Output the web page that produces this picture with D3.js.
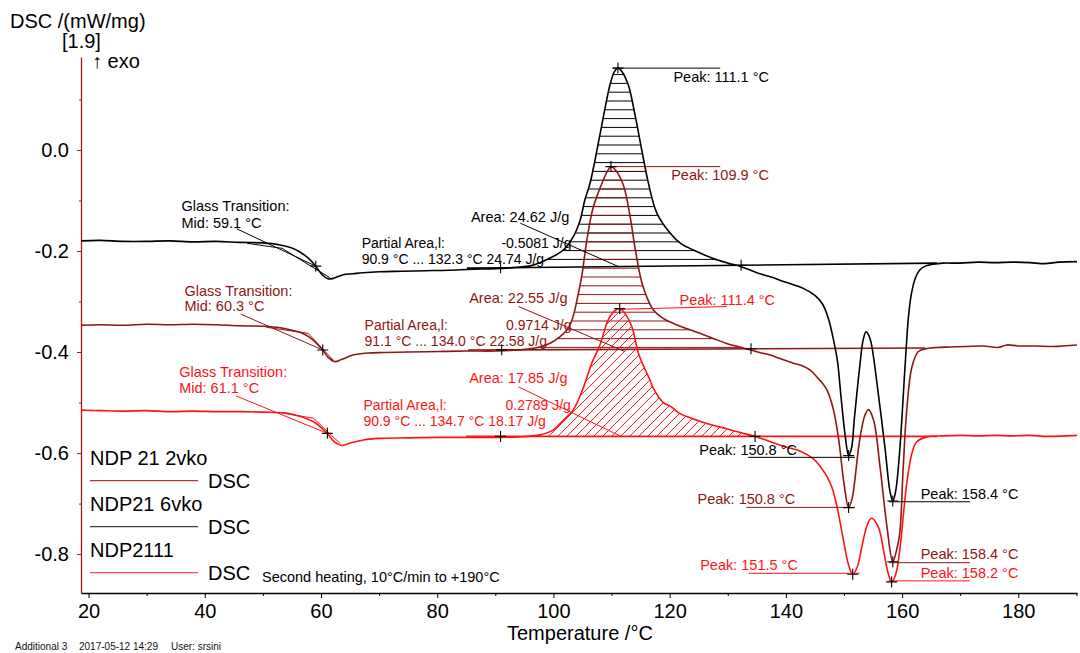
<!DOCTYPE html>
<html>
<head>
<meta charset="utf-8">
<script src="https://cdn.jsdelivr.net/npm/d3@7"></script>
<style>
  body { margin: 0; background: #fff; }
  svg { font-family: "Liberation Sans", Arial, sans-serif; }
</style>
</head>
<body>
<div id="chart"></div>
<script>
// ---- data (temperature /°C, DSC /(mW/mg)) ----
const ndp21_2vko = [
  [18.7,-0.347],[22,-0.346],[26,-0.347],[30,-0.345],[34,-0.346],[38,-0.345],[42,-0.346],[46,-0.348],[50,-0.349],
  [53,-0.352],[55,-0.357],[57,-0.364],[58.5,-0.375],[59.5,-0.386],[60.3,-0.396],[61.2,-0.410],[62.4,-0.419],
  [63.5,-0.415],[65.5,-0.406],[68,-0.402],[71,-0.401],[75,-0.400],[80,-0.399],[85,-0.398],[90,-0.398],
  [94,-0.396],[97.7,-0.390],[99.5,-0.382],[101.1,-0.370],[102.2,-0.358],[102.9,-0.345],[103.5,-0.325],
  [104.0,-0.300],[104.9,-0.248],[105.7,-0.182],[106.7,-0.120],[107.6,-0.088],[108.5,-0.062],[109.3,-0.042],
  [109.9,-0.033],[110.7,-0.040],[112.05,-0.070],[113.2,-0.132],[114.1,-0.198],[115.2,-0.262],[116.1,-0.292],
  [117.2,-0.317],[118.8,-0.333],[120.6,-0.343],[123,-0.354],[125.2,-0.363],[127.5,-0.373],[129.8,-0.383],
  [132,-0.390],[134,-0.396],[135.5,-0.401],[137.3,-0.406],[139,-0.413],[141.3,-0.422],[143,-0.428],
  [144.2,-0.436],[145.3,-0.449],[146.3,-0.462],[147.1,-0.476],[148.2,-0.515],[149.1,-0.574],[150,-0.660],
  [150.8,-0.708],[151.4,-0.690],[151.8,-0.660],[152.7,-0.574],[153.6,-0.525],[154.2,-0.514],[155.1,-0.535],
  [156.2,-0.627],[157.4,-0.746],[158.4,-0.815],[159.1,-0.790],[159.6,-0.759],[160.2,-0.627],[160.8,-0.515],
  [161.7,-0.429],[162.8,-0.399],[164.3,-0.393],[166,-0.391],[168.3,-0.390],[171,-0.389],[174,-0.388],
  [176.5,-0.391],[178,-0.386],[180,-0.388],[183,-0.388],[186,-0.389],[190.1,-0.386]
];
const ndp21_6vko = [
  [18.7,-0.180],[22,-0.179],[26,-0.181],[30,-0.181],[34,-0.180],[38,-0.182],[42,-0.181],[46,-0.183],[50,-0.184],
  [53,-0.188],[55,-0.194],[56.5,-0.203],[58,-0.216],[59.1,-0.230],[60.2,-0.247],[61.2,-0.255],[62.2,-0.254],
  [63.8,-0.247],[65.5,-0.245],[67.2,-0.243],[70,-0.241],[74,-0.240],[78,-0.239],[82,-0.238],[86,-0.236],
  [90,-0.235],[93,-0.233],[96.5,-0.228],[99.4,-0.214],[101.7,-0.198],[103.4,-0.172],[104.6,-0.139],
  [105.4,-0.099],[106.3,-0.066],[107.5,0.000],[108.6,0.066],[109.8,0.132],[110.5,0.155],[111.1,0.162],
  [111.8,0.155],[112.9,0.128],[114.1,0.066],[115.2,0.000],[116.35,-0.066],[117.8,-0.125],[120.1,-0.165],
  [122,-0.186],[124.1,-0.198],[127.5,-0.215],[130,-0.224],[132.3,-0.231],[135,-0.243],[137.3,-0.251],
  [140,-0.262],[143,-0.274],[145,-0.288],[146.3,-0.305],[147.3,-0.333],[148.2,-0.376],[148.9,-0.420],
  [149.5,-0.490],[150.2,-0.565],[150.8,-0.605],[151.3,-0.590],[151.8,-0.530],[152.7,-0.430],[153.3,-0.376],
  [153.8,-0.360],[154.3,-0.368],[154.7,-0.383],[155.9,-0.482],[157.1,-0.594],[157.9,-0.675],[158.4,-0.695],
  [158.9,-0.675],[159.6,-0.594],[160.5,-0.430],[161.1,-0.330],[161.6,-0.285],[162.3,-0.253],[163,-0.238],
  [164,-0.230],[165.4,-0.226],[167,-0.224],[170,-0.224],[173,-0.222],[176,-0.223],[179,-0.222],[182,-0.223],
  [184.5,-0.225],[187,-0.222],[190.1,-0.221]
];
const ndp2111 = [
  [18.7,-0.515],[22,-0.516],[26,-0.517],[30,-0.516],[34,-0.518],[38,-0.517],[42,-0.518],[46,-0.518],[50,-0.519],
  [54,-0.521],[56.3,-0.527],[58.7,-0.538],[60,-0.549],[61.1,-0.561],[62.3,-0.578],[63.6,-0.585],[65,-0.580],
  [67.3,-0.574],[70,-0.571],[75,-0.570],[80,-0.569],[85,-0.569],[90,-0.569],[94,-0.568],[97.7,-0.564],
  [100,-0.554],[101.7,-0.535],[103.4,-0.515],[105.2,-0.469],[106.6,-0.422],[108,-0.386],[109.4,-0.337],
  [110.4,-0.320],[111.4,-0.314],[112.4,-0.325],[113.5,-0.350],[114.7,-0.405],[116.6,-0.455],[117.2,-0.472],
  [118.9,-0.500],[120.1,-0.507],[121.8,-0.522],[123.5,-0.530],[125.2,-0.537],[127.5,-0.545],[129.8,-0.552],
  [132,-0.559],[134.7,-0.567],[137,-0.576],[140,-0.588],[142.4,-0.596],[144.8,-0.612],[146,-0.628],
  [147.1,-0.647],[148,-0.670],[148.8,-0.706],[149.9,-0.772],[150.8,-0.822],[151.5,-0.840],[152.3,-0.825],
  [153,-0.790],[153.9,-0.746],[154.7,-0.729],[155.9,-0.746],[156.8,-0.792],[157.6,-0.838],[158.2,-0.855],
  [158.9,-0.840],[159.6,-0.792],[160.8,-0.660],[161.7,-0.600],[162.5,-0.578],[164.3,-0.568],[167,-0.566],
  [170,-0.565],[173,-0.566],[176,-0.565],[179,-0.566],[182,-0.565],[185,-0.567],[190.1,-0.565]
];

const seriesNames = ["NDP 21 2vko", "NDP21 6vko", "NDP2111"];
const seriesColors = ["#8f1616", "#000000", "#ff1414"];
const seriesData = [ndp21_2vko, ndp21_6vko, ndp2111];

const xTicks = [20, 40, 60, 80, 100, 120, 140, 160, 180];
const xMinorTicks = [30, 50, 70, 90, 110, 130, 150, 170, 190];
const yTicks = [-0.8, -0.6, -0.4, -0.2, 0.0];
const yTickLabels = ["-0.8", "-0.6", "-0.4", "-0.2", "0.0"];
const yMinorTicks = [-0.7, -0.5, -0.3, -0.1, 0.1];

// glass transitions: series index, mid temperature, label anchor, leader start, tangent construction
const glassTransitions = [
  { s: 1, mid: [59.1, -0.230], text: [36.0, -0.121, -0.154], label: "Mid: 59.1 °C", lead: [45.5, -0.156],
    tangent: [[47.3, -0.1848], [53.3, -0.1947], [61.6, -0.2535]] },
  { s: 0, mid: [60.3, -0.396], text: [36.5, -0.289, -0.319], label: "Mid: 60.3 °C", lead: [46.2, -0.325],
    tangent: [[50.6, -0.351], [57.8, -0.363], [62.1, -0.416]] },
  { s: 2, mid: [61.1, -0.561], text: [35.6, -0.4495, -0.481], label: "Mid: 61.1 °C", lead: [45.4, -0.487],
    tangent: [[53.0, -0.520], [58.7, -0.531], [63.3, -0.581]] }
];

// partial area integrations
const partialAreas = [
  { s: 1, from: 90.9, to: 132.3, base: [[85.1, -0.234], [166, -0.224]], hatch: "h",
    area: "Area: 24.62 J/g", areaPos: [85.8, -0.142], lead: [[94.3, -0.145], [111.2, -0.231]],
    part: "-0.5081 J/g", range: "90.9 °C ... 132.3 °C 24.74 J/g", pos: [67.0, -0.197, -0.224], valEnd: 103.1 },
  { s: 0, from: 91.1, to: 134.0, base: [[85.3, -0.396], [164, -0.392]], hatch: "h",
    area: "Area: 22.55 J/g", areaPos: [85.5, -0.3036], lead: [[94.0, -0.310], [112.3, -0.399]],
    part: "0.9714 J/g", range: "91.1 °C ... 134.0 °C 22.58 J/g", pos: [67.5, -0.358, -0.3875], valEnd: 103.1 },
  { s: 2, from: 90.9, to: 134.7, base: [[85.0, -0.567], [166, -0.567]], hatch: "d",
    area: "Area: 17.85 J/g", areaPos: [85.5, -0.461], lead: [[94.0, -0.469], [111.8, -0.568]],
    part: "0.2789 J/g", range: "90.9 °C ... 134.7 °C 18.17 J/g", pos: [67.3, -0.518, -0.5446], valEnd: 103.0 }
];

// peaks: series, peak point, label anchor, leader from/to temperature and level
const peaks = [
  { s: 1, p: [111.1, 0.162], text: "Peak: 111.1 °C", tpos: [120.65, 0.1352], lead: [110.3, 128.7, 0.162, 0.162] },
  { s: 0, p: [109.9, -0.033], text: "Peak: 109.9 °C", tpos: [120.26, -0.0594], lead: [109.3, 128.7, -0.033, -0.033] },
  { s: 2, p: [111.4, -0.314], text: "Peak: 111.4 °C", tpos: [121.7, -0.307], lead: [111.5, 129.85, -0.3154, -0.310] },
  { s: 1, p: [150.8, -0.605], text: "Peak: 150.8 °C", tpos: [125.1, -0.604], lead: [133.5, 151.9, -0.6085, -0.6085] },
  { s: 0, p: [150.8, -0.708], text: "Peak: 150.8 °C", tpos: [124.8, -0.701], lead: [133.2, 151.9, -0.7075, -0.7075] },
  { s: 2, p: [151.5, -0.840], text: "Peak: 151.5 °C", tpos: [125.25, -0.832], lead: [133.6, 152.7, -0.838, -0.838] },
  { s: 1, p: [158.4, -0.695], text: "Peak: 158.4 °C", tpos: [163.2, -0.6917], lead: [157.7, 171.7, -0.6964, -0.6964] },
  { s: 0, p: [158.4, -0.815], text: "Peak: 158.4 °C", tpos: [163.2, -0.8105], lead: [157.7, 171.7, -0.817, -0.817] },
  { s: 2, p: [158.2, -0.855], text: "Peak: 158.2 °C", tpos: [163.2, -0.848], lead: [157.7, 171.7, -0.853, -0.853] }
];

// ---- chart ----
const W = 1080, H = 653;
const svg = d3.select("#chart").append("svg")
  .attr("width", W).attr("height", H);

const x = d3.scaleLinear().domain([18.7, 190.1]).range([81, 1077]);
const y = d3.scaleLinear().domain([-0.877, 0.184]).range([593, 57]);
const axisRed = "#9b1b1b";

// axes
const gx = svg.append("g").attr("transform", `translate(0,${y.range()[0]})`)
  .call(d3.axisBottom(x).tickValues(xTicks).tickSize(5).tickSizeOuter(0).tickPadding(6).tickFormat(d3.format("d")));
gx.selectAll("text").attr("font-size", 20).attr("font-family", "Liberation Sans, Arial, sans-serif").attr("fill", "#000");
gx.select(".domain").attr("stroke", "#000").attr("stroke-width", 1.3);
svg.append("g").attr("transform", `translate(0,${y.range()[0]})`)
  .call(d3.axisBottom(x).tickValues(xMinorTicks).tickSize(3).tickSizeOuter(0).tickFormat(""))
  .call(g => g.select(".domain").remove());

const gy = svg.append("g").attr("transform", `translate(${x.range()[0]},0)`)
  .call(d3.axisLeft(y).tickValues(yTicks).tickSize(4).tickSizeOuter(0).tickPadding(8)
    .tickFormat((d, i) => yTickLabels[i]));
gy.selectAll("text").attr("font-size", 20).attr("font-family", "Liberation Sans, Arial, sans-serif").attr("fill", "#000");
gy.select(".domain").attr("stroke", axisRed).attr("stroke-width", 1.3);
gy.selectAll(".tick line").attr("stroke", axisRed);
svg.append("g").attr("transform", `translate(${x.range()[0]},0)`)
  .call(d3.axisLeft(y).tickValues(yMinorTicks).tickSize(2).tickSizeOuter(0).tickFormat(""))
  .call(g => g.select(".domain").remove())
  .selectAll("line").attr("stroke", axisRed);

// titles
svg.append("text").attr("x", 10).attr("y", 28).attr("font-size", 20).text("DSC /(mW/mg)");
svg.append("text").attr("x", 62).attr("y", 48).attr("font-size", 20).text("[1.9]");
svg.append("text").attr("x", 92).attr("y", 68).attr("font-size", 20).text("↑ exo");
svg.append("text").attr("x", 507).attr("y", 640).attr("font-size", 20).text("Temperature /°C");
const foot = svg.append("g").attr("font-size", 10).attr("fill", "#111");
foot.append("text").attr("x", 15).attr("y", 650).text("Additional 3");
foot.append("text").attr("x", 79).attr("y", 650).text("2017-05-12 14:29");
foot.append("text").attr("x", 171).attr("y", 650).text("User: srsini");

const line = d3.line().x(d => x(d[0])).y(d => y(d[1])).curve(d3.curveCatmullRom.alpha(0.5));
const straight = d3.line().x(d => x(d[0])).y(d => y(d[1]));

function valueAt(data, t) {
  const i = d3.bisector(d => d[0]).left(data, t);
  if (i <= 0) return data[0][1];
  if (i >= data.length) return data[data.length - 1][1];
  const a = data[i - 1], b = data[i];
  return a[1] + (b[1] - a[1]) * (t - a[0]) / (b[0] - a[0]);
}
function baseFn(pa) {
  const b0 = pa.base[0], b1 = pa.base[1];
  return t => b0[1] + (b1[1] - b0[1]) * (t - b0[0]) / (b1[0] - b0[0]);
}

// hatched partial areas
const defs = svg.append("defs");
partialAreas.forEach((pa, k) => {
  const data = seriesData[pa.s], col = seriesColors[pa.s];
  const base = baseFn(pa);
  const pts = [[pa.from, valueAt(data, pa.from)]]
    .concat(data.filter(d => d[0] > pa.from && d[0] < pa.to))
    .concat([[pa.to, valueAt(data, pa.to)]]);
  const area = d3.area().x(d => x(d[0])).y0(d => y(base(d[0]))).y1(d => y(d[1]))
    .curve(d3.curveCatmullRom.alpha(0.5));
  defs.append("clipPath").attr("id", "clip" + k).append("path").attr("d", area(pts));
  const g = svg.append("g").attr("clip-path", `url(#clip${k})`)
    .attr("stroke", col).attr("stroke-width", 1);
  const x0 = x(pa.from), x1 = x(pa.to);
  if (pa.hatch === "h") {
    g.selectAll("line").data(d3.range(y.range()[1], y.range()[0], 8.8)).join("line")
      .attr("x1", x0).attr("x2", x1).attr("y1", d => d).attr("y2", d => d);
  } else {
    const yb = y(base(pa.from)) + 5, hh = 200;
    g.selectAll("line").data(d3.range(x0 - hh, x1 + 10, 9)).join("line")
      .attr("x1", d => d).attr("y1", yb).attr("x2", d => d + hh).attr("y2", yb - hh);
  }
  // baseline
  svg.append("path").attr("d", straight(pa.base)).attr("fill", "none")
    .attr("stroke", col).attr("stroke-width", 1.6);
});

// curves
seriesData.forEach((data, i) => {
  svg.append("path").datum(data).attr("d", line).attr("fill", "none")
    .attr("stroke", seriesColors[i]).attr("stroke-width", 1.6);
});

// annotations
const ann = svg.append("g").attr("font-size", 14.5);
const cross = (t, v) => {
  const cx = x(t), cy = y(v);
  ann.append("path").attr("d", `M${cx - 5.5},${cy}H${cx + 5.5}M${cx},${cy - 5.5}V${cy + 5.5}`)
    .attr("stroke", "#000").attr("stroke-width", 1.1);
};

glassTransitions.forEach(gt => {
  const col = seriesColors[gt.s];
  ann.append("path").attr("d", straight(gt.tangent)).attr("fill", "none").attr("stroke", col).attr("stroke-width", 1);
  ann.append("path").attr("d", straight([gt.lead, gt.mid])).attr("stroke", col).attr("stroke-width", 1);
  const t = ann.append("text").attr("fill", col);
  t.append("tspan").attr("x", x(gt.text[0])).attr("y", y(gt.text[1])).text("Glass Transition:");
  t.append("tspan").attr("x", x(gt.text[0])).attr("y", y(gt.text[2])).text(gt.label);
  cross(gt.mid[0], gt.mid[1]);
});

partialAreas.forEach(pa => {
  const col = seriesColors[pa.s];
  const base = baseFn(pa);
  ann.append("text").attr("x", x(pa.areaPos[0])).attr("y", y(pa.areaPos[1])).attr("fill", col).text(pa.area);
  ann.append("path").attr("d", straight(pa.lead)).attr("stroke", col).attr("stroke-width", 1);
  // two text rows kept just far enough apart that they do not collide
  const midY = (y(pa.pos[1]) + y(pa.pos[2])) / 2, gap = 7.9;
  const t = ann.append("g").attr("fill", col).attr("font-size", 14);
  t.append("text").attr("x", x(pa.pos[0])).attr("y", midY - gap).text("Partial Area,l:");
  t.append("text").attr("x", x(pa.valEnd)).attr("y", midY - gap).attr("text-anchor", "end").text(pa.part);
  t.append("text").attr("x", x(pa.pos[0])).attr("y", midY + gap).text(pa.range);
  cross(pa.from, base(pa.from));
  cross(pa.to, base(pa.to));
});

peaks.forEach(pk => {
  const col = seriesColors[pk.s];
  ann.append("path").attr("d", straight([[pk.lead[0], pk.lead[2]], [pk.lead[1], pk.lead[3]]]))
    .attr("stroke", col).attr("stroke-width", 1);
  ann.append("text").attr("x", x(pk.tpos[0])).attr("y", y(pk.tpos[1])).attr("fill", col).text(pk.text);
  cross(pk.p[0], pk.p[1]);
});

// legend
const legendColors = ["#b03a3a", "#3a3a3a", "#ff4a4a"];
const leg = svg.append("g").attr("font-size", 20);
seriesNames.forEach((name, i) => {
  const top = 465 + i * 46;
  leg.append("text").attr("x", 90).attr("y", top).text(name);
  leg.append("line").attr("x1", 90).attr("x2", 198).attr("y1", top + 15.7).attr("y2", top + 15.7)
    .attr("stroke", legendColors[i]).attr("stroke-width", 1.3);
  leg.append("text").attr("x", 208).attr("y", top + 23).text("DSC");
});
svg.append("text").attr("x", 262).attr("y", 582).attr("font-size", 14.5).text("Second heating, 10°C/min to +190°C");
</script>
</body>
</html>
